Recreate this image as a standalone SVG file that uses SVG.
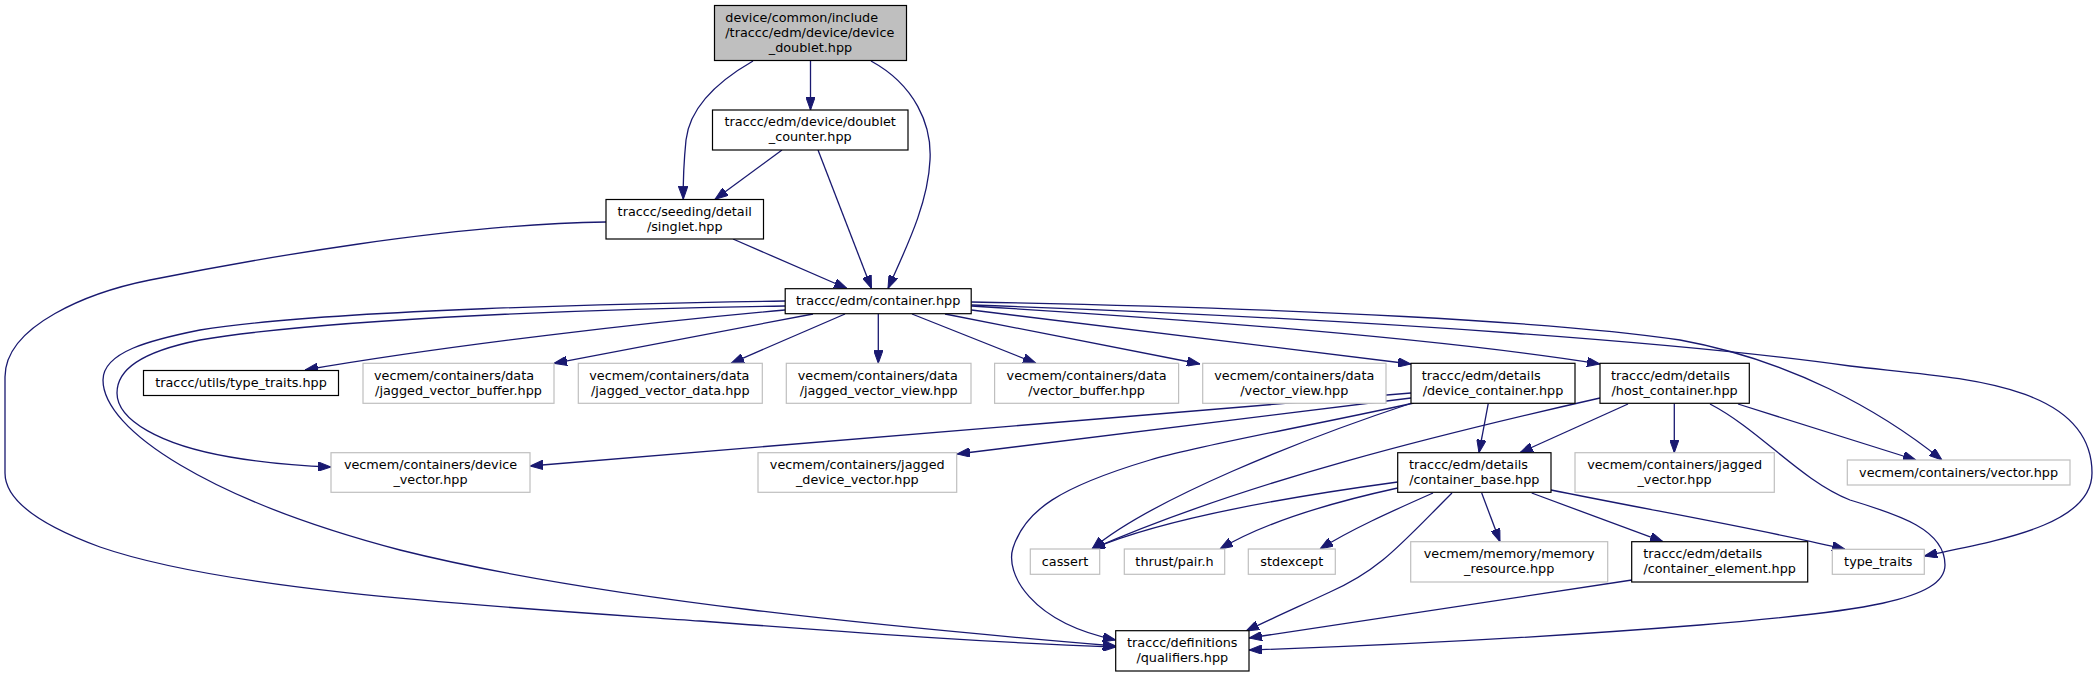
<svg xmlns="http://www.w3.org/2000/svg" width="2097" height="677" viewBox="0 0 2097 677">
<style>
text{font-family:"DejaVu Sans","Liberation Sans",sans-serif;font-size:12.8px;fill:#000}
.m{text-anchor:middle}
.s{text-anchor:start}
.k rect{fill:#fff;stroke:#000;stroke-width:1.2}
.g rect{fill:#fff;stroke:#bfbfbf;stroke-width:1.2}
.r rect{fill:#bfbfbf;stroke:#000;stroke-width:1.2}
.e path{fill:none;stroke:#191970;stroke-width:1.3;marker-end:url(#a)}
</style>
<defs>
<marker id="a" viewBox="0 0 13 9.4" refX="13" refY="4.7" markerWidth="13" markerHeight="9.4" markerUnits="userSpaceOnUse" orient="auto">
<path d="M0,0 L13,4.7 L0,9.4 Z" fill="#191970" stroke="#191970" stroke-width="1"/>
</marker>
</defs>
<rect width="2097" height="677" fill="#fff"/>
<g id="edges" class="e">
<path d="M810.5,61 L810.5,110"/>
<path d="M753,61 C720,80 690,105 686,140 C684,160 683,180 683.3,199.3"/>
<path d="M871,61 C915,85 932,125 930,160 C928,205 905,250 888,288.5"/>
<path d="M782,150 L715,199.3"/>
<path d="M818,150 L871.5,288.5"/>
<path d="M733,239 L847,288.5"/>
<path d="M606,222 C450,224 250,260 150,280 C90,292 5,325 5,377 L5,473 C5,500 40,525 100,547 C230,592 500,607 700,621 C900,636 1000,643 1115.7,647"/>
<path d="M785,310 C650,322 450,345 305,370"/>
<path d="M813,314 L554,363.3"/>
<path d="M845,314 L731,363.3"/>
<path d="M878.3,314 L878.3,363.3"/>
<path d="M912,314 L1036,363.3"/>
<path d="M945,314 L1200,364"/>
<path d="M971.4,310 L1411,364"/>
<path d="M971.4,306 C1200,320 1450,340 1600,364"/>
<path d="M971.4,302 C1300,308 1560,322 1680,340 C1790,360 1880,410 1942,460"/>
<path d="M971.4,305 C1400,320 1700,345 1850,366 C1950,378 2092,380 2092,473 C2092,525 2000,540 1924.3,556"/>
<path d="M785,306 C620,308 330,318 200,340 C140,352 117,370 117,393 C117,420 160,445 230,457 C265,463 300,466 331,467"/>
<path d="M785,301 C640,303 320,310 200,330 C150,340 103,352 103,380 C103,430 210,500 400,550 C600,600 900,628 1115.7,646"/>
<path d="M1488.3,403.3 L1479,452.7"/>
<path d="M1411,393 L530,466"/>
<path d="M1411,398 L957,454"/>
<path d="M1412,403 C1300,440 1150,500 1092,549"/>
<path d="M1414,403 C1300,428 1200,445 1150,460 C1060,487 1025,510 1013,548 C1005,573 1030,622 1115.7,640"/>
<path d="M1628,404 L1520,452.7"/>
<path d="M1674.3,403.3 L1674.3,452.7"/>
<path d="M1738,404 L1916,460"/>
<path d="M1600,398 C1450,432 1250,480 1092,549"/>
<path d="M1710,404 C1760,430 1800,480 1850,500 C1900,515 1945,530 1945,565 C1945,600 1860,612 1700,625 C1550,637 1400,645 1249,650"/>
<path d="M1397.7,482 C1280,498 1160,520 1092,549"/>
<path d="M1397.7,488 C1320,505 1260,525 1220,549"/>
<path d="M1433,493 C1390,512 1350,530 1320,549"/>
<path d="M1452,493 C1400,545 1380,570 1330,592 C1300,606 1275,617 1246,631"/>
<path d="M1481.7,493 L1500,541.7"/>
<path d="M1531.7,493 L1663,541.7"/>
<path d="M1551,490 C1650,510 1780,533 1845,549.3"/>
<path d="M1632,580 L1249,638"/>
</g>
<g id="n1" class="r"><rect x="714.5" y="5.5" width="192" height="55"/>
<text class="s" x="725.3" y="22">device/common/include</text>
<text class="s" x="725.3" y="37">/traccc/edm/device/device</text>
<text class="m" x="810.5" y="52">_doublet.hpp</text></g>
<g id="n2" class="k"><rect x="712.5" y="110" width="195.5" height="40"/>
<text class="m" x="810.2" y="126.3">traccc/edm/device/doublet</text>
<text class="m" x="810.2" y="141.3">_counter.hpp</text></g>
<g id="n3" class="k"><rect x="606" y="199.5" width="157.5" height="39.5"/>
<text class="m" x="684.7" y="215.8">traccc/seeding/detail</text>
<text class="m" x="684.7" y="230.8">/singlet.hpp</text></g>
<g id="n4" class="k"><rect x="785.2" y="288.7" width="186" height="25"/>
<text class="m" x="878.2" y="305.2">traccc/edm/container.hpp</text></g>
<g id="n5" class="k"><rect x="143.5" y="370.5" width="195" height="25"/>
<text class="m" x="241" y="387">traccc/utils/type_traits.hpp</text></g>
<g id="n6" class="g"><rect x="363" y="363.3" width="191" height="40"/>
<text class="s" x="374" y="379.6">vecmem/containers/data</text>
<text class="m" x="458.5" y="394.6">/jagged_vector_buffer.hpp</text></g>
<g id="n7" class="g"><rect x="578.3" y="363.3" width="184" height="40"/>
<text class="s" x="589.3" y="379.6">vecmem/containers/data</text>
<text class="m" x="670.3" y="394.6">/jagged_vector_data.hpp</text></g>
<g id="n8" class="g"><rect x="786.3" y="363.3" width="184.7" height="40"/>
<text class="s" x="797.7" y="379.6">vecmem/containers/data</text>
<text class="m" x="878.7" y="394.6">/jagged_vector_view.hpp</text></g>
<g id="n9" class="g"><rect x="994.6" y="363.3" width="184" height="40"/>
<text class="m" x="1086.6" y="379.6">vecmem/containers/data</text>
<text class="m" x="1086.6" y="394.6">/vector_buffer.hpp</text></g>
<g id="n10" class="g"><rect x="1202.7" y="363.3" width="183.3" height="40"/>
<text class="m" x="1294.3" y="379.6">vecmem/containers/data</text>
<text class="m" x="1294.3" y="394.6">/vector_view.hpp</text></g>
<g id="n11" class="k"><rect x="1411" y="363.3" width="164" height="40"/>
<text class="s" x="1421.7" y="379.6">traccc/edm/details</text>
<text class="m" x="1493" y="394.6">/device_container.hpp</text></g>
<g id="n12" class="k"><rect x="1600" y="363.3" width="149.3" height="40"/>
<text class="s" x="1611" y="379.6">traccc/edm/details</text>
<text class="m" x="1674.6" y="394.6">/host_container.hpp</text></g>
<g id="n13" class="g"><rect x="1847.3" y="460" width="222.7" height="25"/>
<text class="m" x="1958.6" y="476.5">vecmem/containers/vector.hpp</text></g>
<g id="n14" class="g"><rect x="331" y="452.7" width="199" height="39.6"/>
<text class="m" x="430.5" y="469">vecmem/containers/device</text>
<text class="m" x="430.5" y="484">_vector.hpp</text></g>
<g id="n15" class="g"><rect x="758" y="452.7" width="198.7" height="39.6"/>
<text class="m" x="857.3" y="469">vecmem/containers/jagged</text>
<text class="m" x="857.3" y="484">_device_vector.hpp</text></g>
<g id="n16" class="k"><rect x="1397.7" y="452.7" width="153.3" height="39.6"/>
<text class="s" x="1409" y="469">traccc/edm/details</text>
<text class="m" x="1474.3" y="484">/container_base.hpp</text></g>
<g id="n17" class="g"><rect x="1575" y="452.7" width="199.3" height="39.6"/>
<text class="m" x="1674.6" y="469">vecmem/containers/jagged</text>
<text class="m" x="1674.6" y="484">_vector.hpp</text></g>
<g id="n18" class="g"><rect x="1030.3" y="549" width="69.4" height="25.3"/>
<text class="m" x="1065" y="565.6">cassert</text></g>
<g id="n19" class="g"><rect x="1124.3" y="549" width="100.4" height="25.3"/>
<text class="m" x="1174.5" y="565.6">thrust/pair.h</text></g>
<g id="n20" class="g"><rect x="1248.3" y="549" width="87" height="25.3"/>
<text class="m" x="1291.8" y="565.6">stdexcept</text></g>
<g id="n21" class="g"><rect x="1410.7" y="541.7" width="197" height="40.3"/>
<text class="m" x="1509.2" y="558">vecmem/memory/memory</text>
<text class="m" x="1509.2" y="573">_resource.hpp</text></g>
<g id="n22" class="k"><rect x="1631.7" y="541.7" width="176" height="40.3"/>
<text class="s" x="1643.3" y="558">traccc/edm/details</text>
<text class="m" x="1719.7" y="573">/container_element.hpp</text></g>
<g id="n23" class="g"><rect x="1832.3" y="549.3" width="92" height="25"/>
<text class="m" x="1878.3" y="565.8">type_traits</text></g>
<g id="n24" class="k"><rect x="1115.7" y="630.7" width="133.3" height="40.3"/>
<text class="m" x="1182.3" y="647">traccc/definitions</text>
<text class="m" x="1182.3" y="662">/qualifiers.hpp</text></g>
</svg>
